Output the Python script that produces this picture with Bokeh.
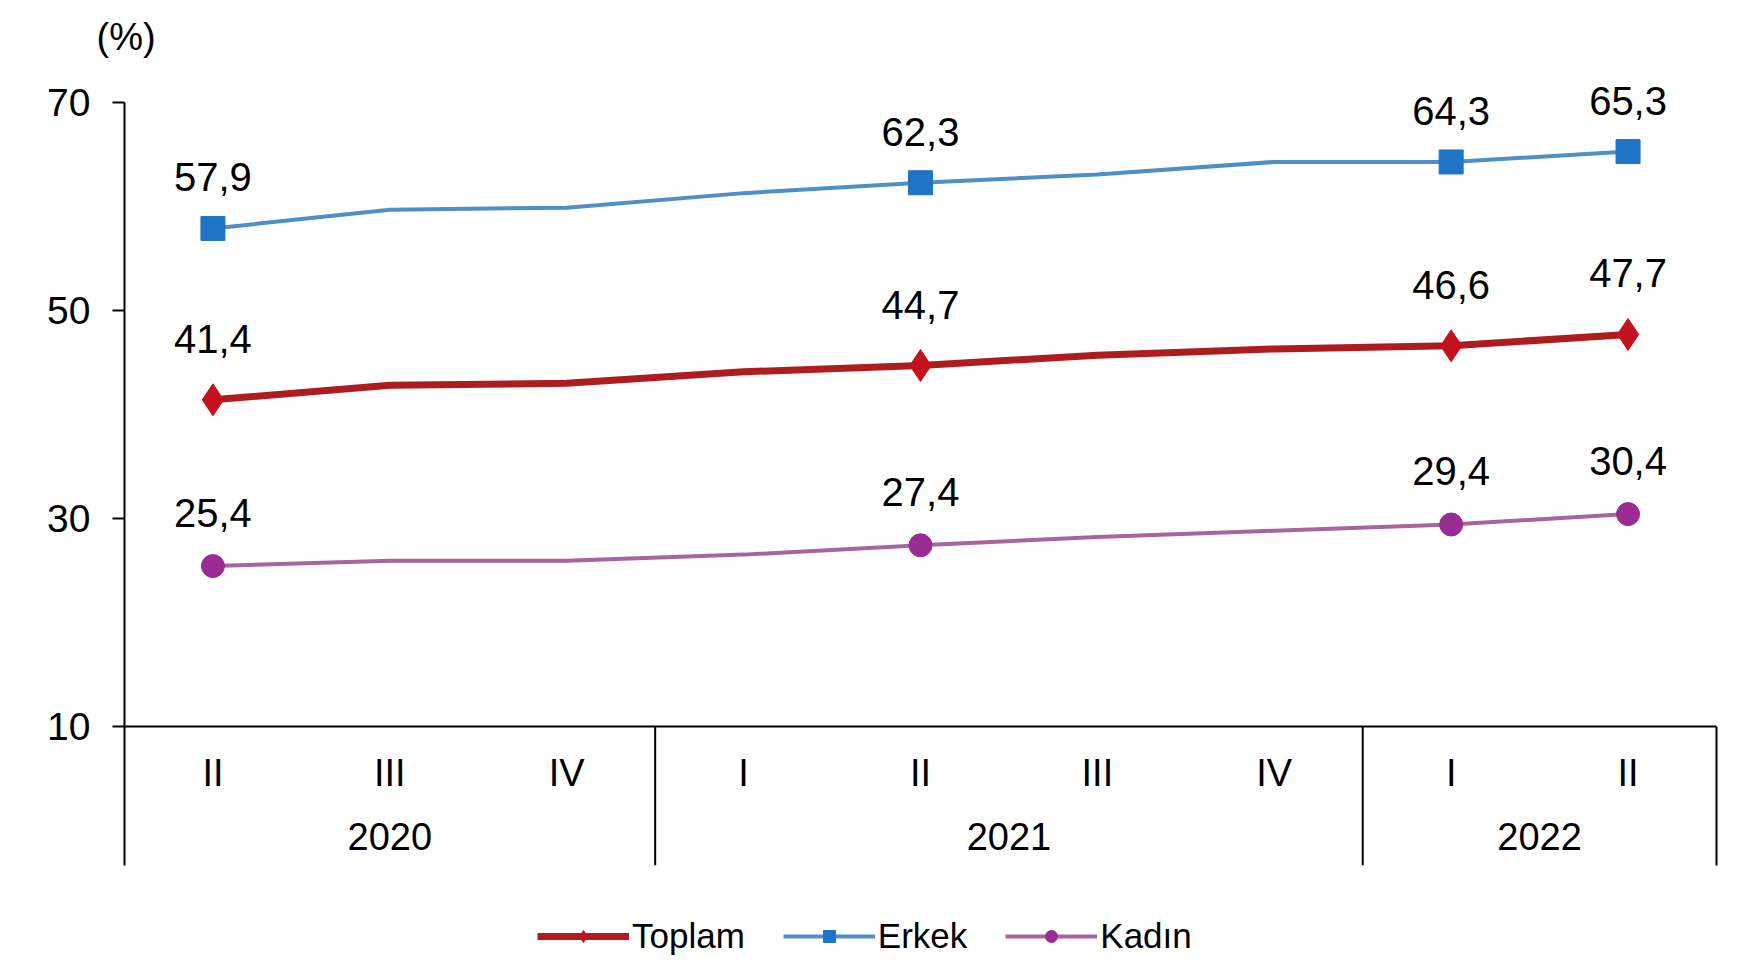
from bokeh.plotting import figure
from bokeh.models import (ColumnDataSource, FactorRange, Range1d, CategoricalAxis, LinearAxis,
                          FixedTicker, Legend, LegendItem, Title)
from bokeh.core.properties import value
from bokeh.embed import file_html
from bokeh.resources import INLINE

# ---- data ----
years = ["2020", "2020", "2020", "2021", "2021", "2021", "2021", "2022", "2022"]
quarters = ["II", "III", "IV", "I", "II", "III", "IV", "I", "II"]
toplam = [41.4, 42.8, 43.0, 44.1, 44.7, 45.7, 46.3, 46.6, 47.7]
erkek = [57.9, 59.7, 59.9, 61.3, 62.3, 63.1, 64.3, 64.3, 65.3]
kadin = [25.4, 25.9, 25.9, 26.5, 27.4, 28.2, 28.8, 29.4, 30.4]
labeled = [True, False, False, False, True, False, False, True, True]
y_ticks = [10, 30, 50, 70]

FONT = "Liberation Sans"

factors = list(zip(years, quarters))

def fmt(v):
    return f"{v:.1f}".replace(".", ",")

src = ColumnDataSource(dict(x=factors, toplam=toplam, erkek=erkek, kadin=kadin))
idx = [i for i, f in enumerate(labeled) if f]
lab = ColumnDataSource(dict(
    x=[factors[i] for i in idx],
    toplam=[toplam[i] for i in idx], erkek=[erkek[i] for i in idx], kadin=[kadin[i] for i in idx],
    t_toplam=[fmt(toplam[i]) for i in idx], t_erkek=[fmt(erkek[i]) for i in idx],
    t_kadin=[fmt(kadin[i]) for i in idx]))

Y_BASE = 10
Y_DIV = -3.4  # bottom of the category separators
p = figure(width=1747, height=958, output_backend="svg", toolbar_location=None,
           x_range=FactorRange(*factors, factor_padding=0, group_padding=0,
                               subgroup_padding=0, range_padding=0),
           y_range=Range1d(-12.38, 72.72), x_axis_type=None,
           min_border_left=124, min_border_right=31, min_border_top=70, min_border_bottom=0)
p.outline_line_color = None
p.xgrid.visible = False
p.ygrid.visible = False
p.background_fill_color = "white"

# unit label as a left-aligned title
p.add_layout(Title(text="(%)", align="left", vertical_align="top", offset=-28, standoff=30,
                   text_font=FONT, text_font_size="38px", text_font_style="normal",
                   text_line_height=0.7, text_color="black"), "above")

# y axis
ya = p.yaxis[0]
ya.ticker = FixedTicker(ticks=y_ticks)
ya.bounds = (Y_DIV, 70)
ya.minor_tick_line_color = None
ya.major_tick_in = 0
ya.major_tick_out = 12
ya.major_tick_line_width = 2
ya.axis_line_width = 2
ya.axis_line_color = "black"
ya.major_tick_line_color = "black"
ya.major_label_standoff = 22
ya.major_label_text_font = FONT
ya.major_label_text_font_size = "39px"
ya.major_label_text_color = "black"

# right border line of the category area
ra = LinearAxis(ticker=FixedTicker(ticks=[]), bounds=(Y_DIV, Y_BASE))
ra.major_tick_in = 0
ra.major_tick_out = 0
ra.minor_tick_line_color = None
ra.axis_line_width = 2
ra.axis_line_color = "black"
ra.major_label_text_font_size = "0px"
p.add_layout(ra, "right")

# categorical x axis fixed at y=10
xa = CategoricalAxis(fixed_location=Y_BASE)
xa.axis_line_width = 2
xa.axis_line_color = "black"
xa.major_tick_in = 0
xa.major_tick_out = 0
xa.major_tick_line_color = None
xa.major_label_standoff = 26
xa.major_label_text_font = FONT
xa.major_label_text_font_size = "38px"
xa.major_label_text_color = "black"
xa.group_text_font = FONT
xa.group_text_font_size = "38px"
xa.group_text_color = "black"
xa.group_text_font_style = "normal"
if "separator_line_color" in xa.properties():
    xa.separator_line_color = None
p.add_layout(xa, "below")

# separators between year groups
ulist = []
for y in sorted(set(years))[:-1]:
    last_q = [q for yy, q in factors if yy == y][-1]
    ulist.append([y, last_q, 0.5])
div = ColumnDataSource(dict(x=ulist, y0=[Y_BASE] * len(ulist), y1=[Y_DIV] * len(ulist)))
p.segment(x0="x", x1="x", y0="y0", y1="y1", source=div, line_color="black", line_width=2)

# series
C_T_LINE, C_T_MARK = "#AE1C20", "#C3121E"
C_E_LINE, C_E_MARK = "#4F8FC6", "#1F74C6"
C_K_LINE, C_K_MARK = "#A8649F", "#9A2B93"

lk = p.line("x", "kadin", source=src, line_color=C_K_LINE, line_width=4)
le = p.line("x", "erkek", source=src, line_color=C_E_LINE, line_width=4)
lt = p.line("x", "toplam", source=src, line_color=C_T_LINE, line_width=7)
sk = p.scatter("x", "kadin", source=lab, marker="circle", size=23, fill_color=C_K_MARK, line_color=C_K_MARK)
se = p.scatter("x", "erkek", source=lab, marker="square", size=24, fill_color=C_E_MARK, line_color=C_E_MARK)
st = p.scatter("x", "toplam", source=lab, marker="diamond", size=32, fill_color=C_T_MARK, line_color=C_T_MARK)

for col, off in [("toplam", -61), ("erkek", -51), ("kadin", -53)]:
    p.text("x", col, text="t_" + col, source=lab, text_align="center", text_baseline="alphabetic",
           y_offset=off, text_font=value(FONT), text_font_size=value("40px"), text_color="black")

legend = Legend(items=[LegendItem(label="Toplam", renderers=[lt, st]),
                       LegendItem(label="Erkek", renderers=[le, se]),
                       LegendItem(label="Kadın", renderers=[lk, sk])],
                orientation="horizontal", location=(413, 2),
                padding=0, margin=0, spacing=38, label_standoff=3,
                glyph_width=92, glyph_height=30, label_height=30,
                label_text_font=FONT, label_text_font_size="35px", label_text_color="black",
                border_line_color=None, background_fill_alpha=0)
p.add_layout(legend)

open("out.html", "w").write(file_html(p, INLINE))
